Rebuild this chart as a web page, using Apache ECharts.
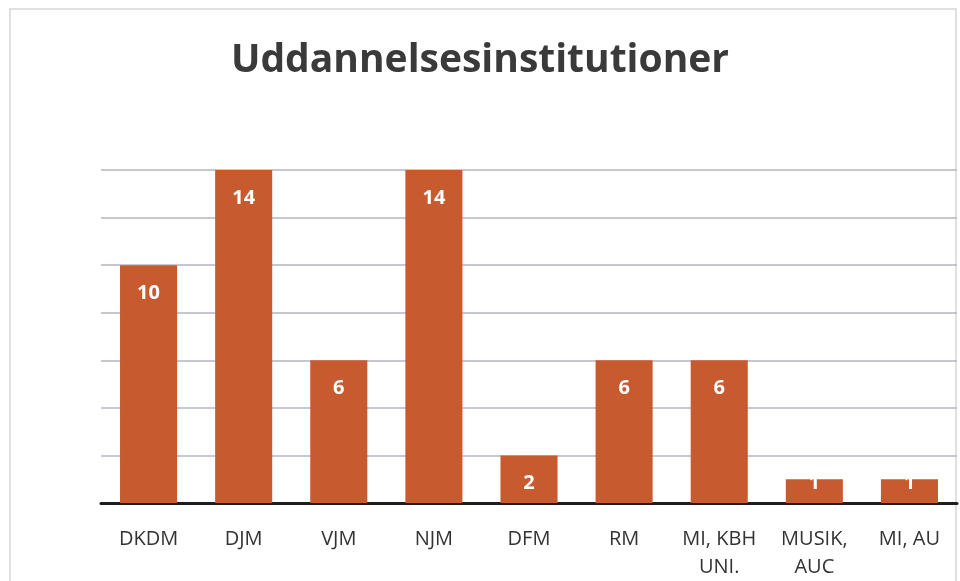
<!DOCTYPE html>
<html>
<head>
<meta charset="utf-8">
<script src="https://cdn.jsdelivr.net/npm/echarts@6/dist/echarts.min.js"></script>
<style>
    html, body { margin: 0; padding: 0; background: #fff; }
    #main { width: 960px; height: 581px; }
</style>
</head>
<body>
<div id="main"></div>
<script>
var titleText = 'Uddannelsesinstitutioner';
var categories = ['DKDM', 'DJM', 'VJM', 'NJM', 'DFM', 'RM', 'MI, KBH\nUNI.', 'MUSIK,\nAUC', 'MI, AU'];
var values = [10, 14, 6, 14, 2, 6, 6, 1, 1];
var yMax = 14;
var yStep = 2;

(function () {
    // små søjler: etiketten sidder højere oppe (som i originalen)
    var seriesData = values.map(function (v) {
        if (v < 2) {
            return { value: v, label: { position: 'insideTop', distance: -6 } };
        }
        return v;
    });

    var option = {
        backgroundColor: '#ffffff',
        animation: false,
        title: {
            text: titleText,
            left: 'center',
            top: 36,
            textStyle: {
                fontFamily: 'Open Sans',
                fontWeight: 'bold',
                fontSize: 39,
                color: '#3a3a3a'
            }
        },
        graphic: [
            {
                type: 'rect',
                shape: { x: 10, y: 9, width: 946, height: 580 },
                style: { fill: 'none', stroke: '#d6d6d6', lineWidth: 1.5 },
                silent: true
            }
        ],
        grid: {
            left: 101,
            right: 3,
            top: 170,
            bottom: 72
        },
        xAxis: {
            type: 'category',
            data: categories,
            axisLine: {
                show: true,
                lineStyle: { color: '#1e1e1e', width: 3 }
            },
            axisTick: { show: false },
            axisLabel: {
                interval: 0,
                margin: 22,
                fontFamily: 'Open Sans',
                fontSize: 20,
                lineHeight: 28,
                color: '#333333'
            }
        },
        yAxis: {
            type: 'value',
            min: 0,
            max: yMax,
            interval: yStep,
            axisLine: { show: false },
            axisTick: { show: false },
            axisLabel: { show: false },
            splitLine: {
                show: true,
                lineStyle: { color: '#b4b4c4', width: 1.5 }
            }
        },
        series: [
            {
                type: 'bar',
                barWidth: '60%',
                itemStyle: { color: '#c75a2e' },
                label: {
                    show: true,
                    position: 'insideTop',
                    distance: 18,
                    fontFamily: 'Open Sans',
                    fontWeight: 'bold',
                    fontSize: 20,
                    color: '#ffffff'
                },
                data: seriesData
            }
        ]
    };

    var myChart = echarts.init(document.getElementById('main'));
    myChart.setOption(option);
})();
</script>
</body>
</html>
